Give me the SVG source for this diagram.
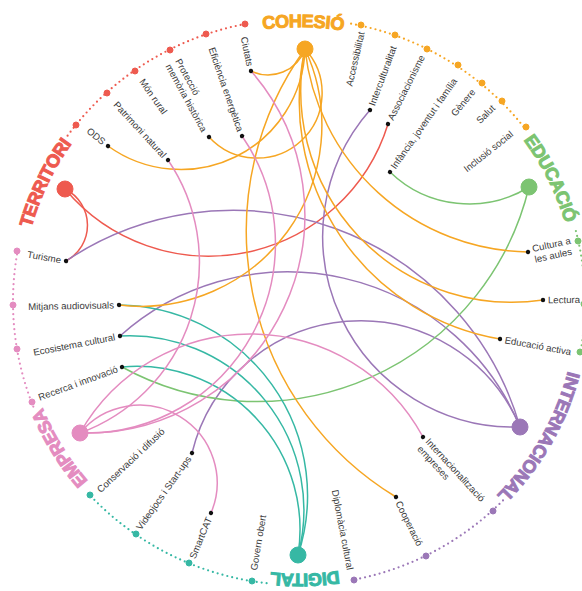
<svg xmlns="http://www.w3.org/2000/svg" width="582" height="591" viewBox="0 0 582 591">
<style>
.lbl{font-family:"Liberation Sans",Arial,sans-serif;font-size:9.6px;fill:#3a3a3a}
.cat{font-family:"Liberation Sans",Arial,sans-serif;font-size:18px;font-weight:bold}
.link{fill:none;stroke-width:1.5}
.ring{fill:none;stroke-width:2.2;stroke-linecap:round;stroke-dasharray:0 5}
.dot{fill:#111}
.ter{stroke:#EE5A4F;fill:#EE5A4F}
.coh{stroke:#F6A623;fill:#F6A623}
.edu{stroke:#7CC472;fill:#7CC472}
.int{stroke:#9B77B7;fill:#9B77B7}
.dig{stroke:#36B8A4;fill:#36B8A4}
.emp{stroke:#E48CC0;fill:#E48CC0}
.link.ter,.link.coh,.link.edu,.link.int,.link.dig,.link.emp,.ring.ter,.ring.coh,.ring.edu,.ring.int,.ring.dig,.ring.emp{fill:none}
</style>
<defs>
<path id="ringPath" d="M585,302 A286,283 0 1 1 13,302 A286,283 0 1 1 585,302" fill="none"/>
</defs>
<rect width="582" height="591" fill="#fff"/>

<g id="ring">
<path class="ring ter" d="M67.6,135.7 A286,283 0 0 1 246.4,23.8"/>
<path class="ring coh" d="M351.1,23.7 A286,283 0 0 1 525.6,129.3"/>
<path class="ring edu" d="M575.9,231.1 A286,283 0 0 1 580.3,353.1"/>
<path class="ring int" d="M503,500.4 A286,283 0 0 1 352.6,580"/>
<path class="ring dig" d="M266.6,583.2 A286,283 0 0 1 90.8,496.1"/>
<path class="ring emp" d="M33.3,406.6 A286,283 0 0 1 17.3,252.9"/>
<g class="ter" stroke="none">
<circle cx="245" cy="24" r="3"/><circle cx="206" cy="34" r="3"/><circle cx="170" cy="50" r="3"/><circle cx="135" cy="71" r="3"/><circle cx="107" cy="93" r="3"/><circle cx="76" cy="125" r="3"/>
</g>
<g class="coh" stroke="none">
<circle cx="361" cy="25" r="3"/><circle cx="395" cy="35" r="3"/><circle cx="427" cy="49" r="3"/><circle cx="458" cy="65" r="3"/><circle cx="482" cy="83" r="3"/><circle cx="502" cy="101" r="3"/><circle cx="526" cy="127" r="3"/>
</g>
<g class="edu" stroke="none">
<circle cx="578" cy="241" r="3"/><circle cx="584" cy="304" r="3"/><circle cx="580" cy="352" r="3"/>
</g>
<g class="int" stroke="none">
<circle cx="493" cy="511" r="3"/><circle cx="426" cy="556" r="3"/><circle cx="354" cy="580" r="3"/>
</g>
<g class="dig" stroke="none">
<circle cx="252" cy="581" r="3"/><circle cx="189" cy="563" r="3"/><circle cx="136" cy="534" r="3"/><circle cx="90" cy="495" r="3"/>
</g>
<g class="emp" stroke="none">
<circle cx="32" cy="402" r="3"/><circle cx="17" cy="349" r="3"/><circle cx="13" cy="305" r="3"/><circle cx="17" cy="251" r="3"/>
</g>
</g>

<g id="categories">
<text class="cat coh" stroke="none" dy="0.45em"><textPath href="#ringPath" startOffset="75.25%" text-anchor="middle">COHESIÓ</textPath></text>
<text class="cat edu" stroke="none" dy="0.45em"><textPath href="#ringPath" startOffset="92.7%" text-anchor="middle">EDUCACIÓ</textPath></text>
<text class="cat int" stroke="none" dy="0.45em"><textPath href="#ringPath" startOffset="8.2%" text-anchor="middle">INTERNACIONAL</textPath></text>
<text class="cat dig" stroke="none" dy="0.62em"><textPath href="#ringPath" startOffset="24.67%" text-anchor="middle">DIGITAL</textPath></text>
<text class="cat emp" stroke="none" dy="0.45em"><textPath href="#ringPath" startOffset="41.25%" text-anchor="middle">EMPRESA</textPath></text>
<text class="cat ter" stroke="none" dy="0.45em"><textPath href="#ringPath" startOffset="57.03%" text-anchor="middle">TERRITORI</textPath></text>
</g>

<g id="connectors">
<path class="link ter" d="M65,189 A40.5,40.5 0 0 1 66,261"/>
<path class="link ter" d="M65,189 A187.5,187.5 0 0 0 388,124"/>
<path class="link int" d="M66,261 A299,299 0 0 1 520,427"/>
<path class="link int" d="M120,336 A251.4,251.4 0 0 1 520,427"/>
<path class="link int" d="M192,453 A173.2,173.2 0 0 1 520,427"/>
<path class="link int" d="M370,110 A191.2,191.2 0 0 0 520,427"/>
<path class="link edu" d="M390,172 A113.8,113.8 0 0 0 529,187"/>
<path class="link edu" d="M529,187 A280,280 0 0 1 122,367"/>
<path class="link dig" d="M119,305 A190.5,190.5 0 0 1 298,555"/>
<path class="link dig" d="M120,336 A174.3,174.3 0 0 1 298,555"/>
<path class="link dig" d="M122,367 A163.1,163.1 0 0 1 298,555"/>
<path class="link coh" d="M305,49 A39.2,39.2 0 0 1 251,71"/>
<path class="link coh" d="M305,49 A65,65 0 0 1 209,137"/>
<path class="link coh" d="M305,49 A124.3,124.3 0 0 1 108,146"/>
<path class="link coh" d="M305,49 A181,181 0 0 1 119,305"/>
<path class="link coh" d="M305,49 A311.3,311.3 0 0 0 396,497"/>
<path class="link coh" d="M305,49 A228,228 0 0 0 528,252"/>
<path class="link coh" d="M305,49 A211.2,211.2 0 0 0 543,300"/>
<path class="link coh" d="M305,49 A241,241 0 0 0 500,339"/>
<path class="link emp" d="M80,433 A181.9,181.9 0 0 0 168,160"/>
<path class="link emp" d="M80,433 A189.6,189.6 0 0 0 242,136"/>
<path class="link emp" d="M80,433 A218.5,218.5 0 0 0 251,71"/>
<path class="link emp" d="M80,433 A196.1,196.1 0 0 1 423,437"/>
<path class="link emp" d="M80,433 A77.6,77.6 0 0 1 211,513"/>
</g>

<g id="node-cohesio" class="coh" stroke="none"><circle cx="305" cy="49" r="8"/></g>
<g id="node-educacio" class="edu" stroke="none"><circle cx="529" cy="187" r="8"/></g>
<g id="node-internacional" class="int" stroke="none"><circle cx="520" cy="427" r="8"/></g>
<g id="node-digital" class="dig" stroke="none"><circle cx="298" cy="555" r="8"/></g>
<g id="node-empresa" class="emp" stroke="none"><circle cx="80" cy="433" r="8"/></g>
<g id="node-territori" class="ter" stroke="none"><circle cx="65" cy="189" r="8"/></g>

<g id="leaf-ods" transform="translate(108,146) rotate(39.2)"><circle class="dot" r="2.2"/><text class="lbl" x="-5" y="3.3" text-anchor="end">ODS</text></g>
<g id="leaf-patrimoni" transform="translate(168,160) rotate(47.3)"><circle class="dot" r="2.2"/><text class="lbl" x="-5" y="3.3" text-anchor="end">Patrimoni natural</text></g>
<g id="leaf-monrural" transform="translate(165,113) rotate(54.7)"><text class="lbl" x="0" y="3.3" text-anchor="end">Món rural</text></g>
<g id="leaf-proteccio" transform="translate(209,137) rotate(61.4)"><circle class="dot" r="2.2"/><text class="lbl" x="-83" y="-6.5">Protecció</text><text class="lbl" x="-83" y="4.5">memòria històrica</text></g>
<g id="leaf-eficiencia" transform="translate(242,136) rotate(71)"><circle class="dot" r="2.2"/><text class="lbl" x="-5" y="3.3" text-anchor="end">Eficiència energètica</text></g>
<g id="leaf-ciutats" transform="translate(251,71) rotate(78.3)"><circle class="dot" r="2.2"/><text class="lbl" x="-5" y="3.3" text-anchor="end">Ciutats</text></g>

<g id="leaf-accessibilitat" transform="translate(349,86) rotate(-77)"><text class="lbl" x="0" y="3.3">Accessibilitat</text></g>
<g id="leaf-interculturalitat" transform="translate(370,110) rotate(-69.7)"><circle class="dot" r="2.2"/><text class="lbl" x="5" y="3.3">Interculturalitat</text></g>
<g id="leaf-associacionisme" transform="translate(388,124) rotate(-63.4)"><circle class="dot" r="2.2"/><text class="lbl" x="5" y="3.3">Associacionisme</text></g>
<g id="leaf-infancia" transform="translate(390,172) rotate(-55)"><circle class="dot" r="2.2"/><text class="lbl" x="5" y="3.3">Infància, joventut i família</text></g>
<g id="leaf-genere" transform="translate(453,115) rotate(-50.5)"><text class="lbl" x="0" y="3.3">Gènere</text></g>
<g id="leaf-salut" transform="translate(478,122) rotate(-45.2)"><text class="lbl" x="0" y="3.3">Salut</text></g>
<g id="leaf-inclusio" transform="translate(465,170) rotate(-38.5)"><text class="lbl" x="0" y="3.3">Inclusió social</text></g>

<g id="leaf-cultura" transform="translate(528,252) rotate(-12.3)"><circle class="dot" r="2.2"/><text class="lbl" x="5" y="1">Cultura a</text><text class="lbl" x="5" y="12">les aules</text></g>
<g id="leaf-lectura" transform="translate(543,300) rotate(-0.5)"><circle class="dot" r="2.2"/><text class="lbl" x="5" y="3.3">Lectura</text></g>
<g id="leaf-educacioactiva" transform="translate(500,339) rotate(10.4)"><circle class="dot" r="2.2"/><text class="lbl" x="5" y="3.3">Educació activa</text></g>

<g id="leaf-internacionalitzacio" transform="translate(423,437) rotate(47.4)"><circle class="dot" r="2.2"/><text class="lbl" x="5" y="2">Internacionalització</text><text class="lbl" x="5" y="13">empreses</text></g>
<g id="leaf-cooperacio" transform="translate(396,497) rotate(63.6)"><circle class="dot" r="2.2"/><text class="lbl" x="5" y="3.3">Cooperació</text></g>
<g id="leaf-diplomacia" transform="translate(335,490) rotate(79.2)"><text class="lbl" x="0" y="3.3">Diplomàcia cultural</text></g>

<g id="leaf-govern" transform="translate(263,515) rotate(-80.4)"><text class="lbl" x="0" y="3.3" text-anchor="end">Govern obert</text></g>
<g id="leaf-smartcat" transform="translate(211,513) rotate(-67.4)"><circle class="dot" r="2.2"/><text class="lbl" x="-5" y="3.3" text-anchor="end">SmartCAT</text></g>
<g id="leaf-videojocs" transform="translate(192,453) rotate(-54.7)"><circle class="dot" r="2.2"/><text class="lbl" x="-5" y="3.3" text-anchor="end">Videojocs i Start-ups</text></g>
<g id="leaf-conservacio" transform="translate(163,430) rotate(-43.3)"><text class="lbl" x="0" y="3.3" text-anchor="end">Conservació i difusió</text></g>

<g id="leaf-recerca" transform="translate(122,367) rotate(-20.2)"><circle class="dot" r="2.2"/><text class="lbl" x="-5" y="3.3" text-anchor="end">Recerca i innovació</text></g>
<g id="leaf-ecosistema" transform="translate(120,336) rotate(-10.8)"><circle class="dot" r="2.2"/><text class="lbl" x="-5" y="3.3" text-anchor="end">Ecosistema cultural</text></g>
<g id="leaf-mitjans" transform="translate(119,305) rotate(-1)"><circle class="dot" r="2.2"/><text class="lbl" x="-5" y="3.3" text-anchor="end">Mitjans audiovisuals</text></g>
<g id="leaf-turisme" transform="translate(66,261) rotate(10)"><circle class="dot" r="2.2"/><text class="lbl" x="-5" y="3.3" text-anchor="end">Turisme</text></g>
</svg>
